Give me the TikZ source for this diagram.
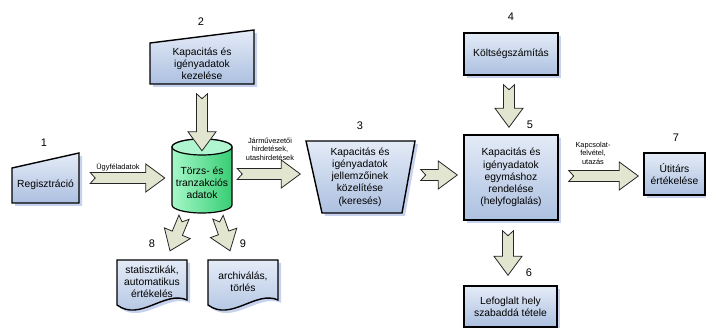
\documentclass[tikz,border=0pt]{standalone}
\usepackage{fontspec}
\setmainfont{Liberation Sans}
\usetikzlibrary{calc}

\definecolor{boxlight}{RGB}{228,235,247}
\definecolor{boxdark}{RGB}{172,192,224}
\definecolor{shadowblue}{RGB}{198,210,238}
\definecolor{arrowfill}{RGB}{226,230,208}
\definecolor{dbmint}{RGB}{165,248,200}
\definecolor{dbgreen}{RGB}{55,205,115}
\definecolor{dbtop}{RGB}{175,246,208}

\newcommand\mainsize{\fontsize{10.3}{12.2}\selectfont}
\newcommand\labsize{\fontsize{7.4}{8.6}\selectfont}
\newcommand\numsize{\fontsize{11}{13}\selectfont}

\tikzset{
  shadowed/.style={preaction={fill=shadowblue, draw=none,
      transform canvas={shift={(3pt,-3pt)}}}},
  shapeline/.style={draw=black, line width=1.4pt, line join=miter,
      top color=boxlight, bottom color=boxdark},
  procbox/.style={shapeline, shadowed, align=center, inner sep=2pt,
      font=\mainsize},
  txt/.style={align=center, inner sep=0pt, font=\mainsize},
  lab/.style={align=center, inner sep=0pt, font=\labsize},
  num/.style={inner sep=0pt, font=\numsize},
  fat/.style={draw=black!85, fill=arrowfill, line width=0.8pt,
    line join=miter, to path={
      let \p1=(\tikztostart), \p2=(\tikztotarget),
          \n1={atan2(\y2-\y1,\x2-\x1)} in
      ($(\p1)+(\n1+90:5.5pt)$)
      -- ($(\p2)+(\n1:-19pt)+(\n1+90:5.5pt)$)
      -- ($(\p2)+(\n1:-19pt)+(\n1+90:14pt)$)
      -- (\p2)
      -- ($(\p2)+(\n1:-19pt)+(\n1-90:14pt)$)
      -- ($(\p2)+(\n1:-19pt)+(\n1-90:5.5pt)$)
      -- ($(\p1)+(\n1-90:5.5pt)$)
      -- ($(\p1)+(\n1:5pt)$) -- cycle}}
}

\begin{document}
\begin{tikzpicture}[x=1pt, y=-1pt]
  \useasboundingbox (0,0) rectangle (706,328);

  % shapes drawn directly
  \draw[shapeline, shadowed] (12,168) -- (79,153) -- (79,203) -- (12,203) -- cycle;
  \draw[shapeline, shadowed] (150,43) -- (254,30) -- (254,84) -- (150,84) -- cycle;
  \draw[shapeline, shadowed] (306,141) -- (415,141) -- (402,213) -- (322,213) -- cycle;
  \draw[shapeline, shadowed] (117,260) -- (187,260) -- (187,300)
    .. controls (165,290) and (140,322) .. (117,305) -- cycle;
  \draw[shapeline, shadowed] (208,260) -- (278,260) -- (278,300)
    .. controls (256,290) and (231,322) .. (208,305) -- cycle;
  \draw[line width=1.2pt, left color=dbmint, right color=dbgreen]
    (172,147) -- (172,205) arc[start angle=180, end angle=360, x radius=30pt, y radius=8pt]
    -- (232,147) arc[start angle=0, end angle=180, x radius=30pt, y radius=8pt] -- cycle;
  \draw[line width=1.2pt, fill=dbtop] (202,147) ellipse [x radius=30pt, y radius=8pt];

  % texts and boxes
  \node[txt, minimum width=67, minimum height=36] (reg) at (45.5,185) {Regisztráció};
  \node[txt, minimum width=104, minimum height=41] (kezel) at (202,64) {Kapacitás és\\igényadatok\\kezelése};
  \node[txt, minimum width=60, minimum height=60] (db) at (202,183) {Törzs- és\\tranzakciós\\adatok};
  \node[txt, minimum width=109, minimum height=72] (keres) at (360,177) {Kapacitás és\\igényadatok\\jellemzőinek\\közelítése\\(keresés)};
  \node[txt, minimum width=70, minimum height=44] (stat) at (152,282) {statisztikák,\\automatikus\\értékelés};
  \node[txt, minimum width=70, minimum height=44] (arch) at (243,282) {archiválás,\\törlés};
  \node[procbox, minimum width=94, minimum height=42] (kolts) at (511,54) {Költségszámítás};
  \node[procbox, minimum width=94, minimum height=85] (rendel) at (511,177.5) {Kapacitás és\\igényadatok\\egymáshoz\\rendelése\\(helyfoglalás)};
  \node[procbox, minimum width=61, minimum height=42] (utitars) at (674.5,174) {Útitárs\\értékelése};
  \node[procbox, minimum width=93, minimum height=41] (szabad) at (510.5,306.5) {Lefoglalt hely\\szabaddá tétele};

  % step numbers
  \node[num] (num1) at (44,143) {1};
  \node[num] (num2) at (201,22) {2};
  \node[num] (num3) at (360,126) {3};
  \node[num] (num4) at (511,17) {4};
  \node[num] (num5) at (530,125) {5};
  \node[num] (num6) at (529,273) {6};
  \node[num] (num7) at (676,138) {7};
  \node[num] (num8) at (152,244) {8};
  \node[num] (num9) at (243,244) {9};

  % block arrows
  \draw[fat] ($(reg.east)+(11,-7)$) to ($(db.west)+(-7,-5)$);
  \draw[fat] ($(kezel.south)+(0,9)$) to ($(db.north)+(0,-2)$);
  \draw[fat] ($(db.east)+(5,-9)$) to ($(keres.west)+(-5,-3)$);
  \draw[fat] ($(keres.east)+(6,-2)$) to ($(rendel.west)+(-6,-2.5)$);
  \draw[fat] ($(kolts.south)+(-2,9)$) to ($(rendel.north)+(-2,-7)$);
  \draw[fat] ($(rendel.east)+(10,-1.5)$) to ($(utitars.west)+(-5,2)$);
  \draw[fat] ($(rendel.south)+(-3,10)$) to ($(szabad.north)+(-2.5,-10)$);
  \draw[fat] ($(db.south)+(-18,4)$) to ($(stat.north)+(18,-9)$);
  \draw[fat] ($(db.south)+(16,4)$) to ($(arch.north)+(-13,-9)$);

  % arrow labels
  \node[lab] (labugy) at (118,167) {Ügyféladatok};
  \node[lab] (labhird) at (270,149) {Járművezetői\\hirdetések,\\utashirdetések};
  \node[lab] (labkapcs) at (593,153) {Kapcsolat-\\felvétel,\\utazás};
\end{tikzpicture}
\end{document}
